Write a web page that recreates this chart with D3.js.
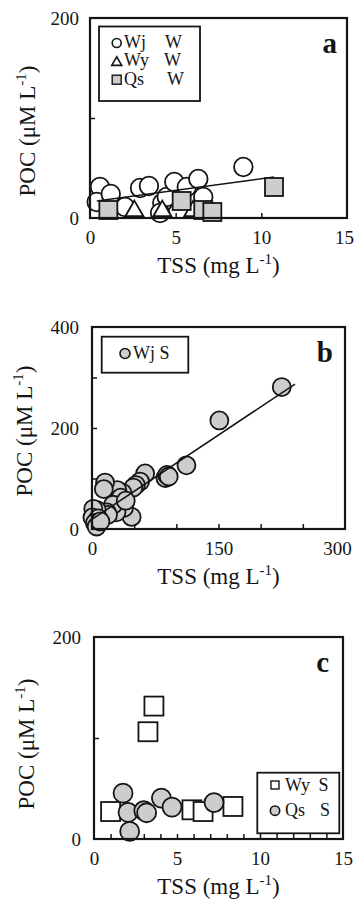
<!DOCTYPE html>
<html>
<head>
<meta charset="utf-8">
<script src="https://cdn.jsdelivr.net/npm/d3@7"></script>
<style>
  html, body { margin: 0; padding: 0; background: #fff; }
  svg { display: block; }
</style>
</head>
<body>
<script>
// ---------------- DATA ----------------
// Panel a (winter)
const wjW_tss = [0.58, 0.39, 1.21, 2.04, 2.92, 3.44, 4.22, 4.48, 4.92, 5.65, 6.32, 6.61, 8.95, 4.09];
const wjW_poc = [31, 16, 24, 11, 30, 32, 15, 21, 36, 31, 39, 21, 51, 5];
const wyW_tss = [2.59, 4.22, 6.03];
const wyW_poc = [7, 7, 7];
const qsW_tss = [1.07, 5.35, 6.61, 7.14, 10.74];
const qsW_poc = [8, 17, 8, 6, 31];
const fitA_tss = [0.4, 10.74];
const fitA_poc = [17, 41];

// Panel b (summer, Wj)
const wjS_tss = [225, 151, 112, 87, 89, 91, 63, 57, 52, 49, 47, 36, 30, 34, 38, 29, 25, 15.5, 14, 17.5, 19, 5.5, 1.5, 0.5, 7.5, 3.5, 5.5, 10, 40];
const wjS_poc = [281, 215, 126, 101, 107, 104, 110, 94, 87, 82, 24, 72, 77, 62, 42, 33, 48, 92, 79, 33, 28, 38, 40, 23, 21, 12, 5, 15, 56];
const fitB_tss = [0, 240.7];
const fitB_poc = [19, 287];

// Panel c (summer, Wy & Qs)
const wyS_tss = [3.61, 3.25, 1.0, 5.9, 6.57, 8.37];
const wyS_poc = [131.6, 106.2, 27.2, 28.9, 27.2, 32.2];
const qsS_tss = [1.75, 2.05, 2.15, 3.0, 3.17, 4.06, 4.7, 7.23];
const qsS_poc = [45.4, 26.3, 7.5, 28, 26, 40.5, 31.6, 36.1];

// Axis ticks / labels
const aXLabels = [0, 5, 10, 15], aXTicks = [5, 10], aYLabels = [0, 200], aYTicks = [100];
const bXLabels = [0, 150, 300], bXTicks = [50, 100, 150, 200, 250], bYLabels = [0, 200, 400], bYTicks = [100, 200, 300];
const cXLabels = [0, 5, 10, 15], cXTicks = [1,2,3,4,5,6,7,8,9,10,11,12,13,14], cYLabels = [0, 200], cYTicks = [100];

const xTitle = "TSS (mg L", yTitle = "POC  (\u03BCM L", supText = "-1";

// ---------------- DRAW ----------------
const W = 357, H = 901;
const FONT = "'Liberation Serif'";
const svg = d3.select("body").append("svg").attr("width", W).attr("height", H);
const GRAY = "#cdcdcd", INK = "#151515";

function zip(a, b) { return a.map((v, i) => [v, b[i]]); }
function styleText(sel, size) {
  return sel.style("font-family", FONT).style("font-size", size + "px").style("fill", INK);
}

function panel(cfg) {
  const x = d3.scaleLinear().domain(cfg.xDomain).range([cfg.left, cfg.right]);
  const y = d3.scaleLinear().domain(cfg.yDomain).range([cfg.bottom, cfg.top]);
  const g = svg.append("g");

  // tick marks (inward)
  const tx = g.append("g").attr("transform", `translate(0,${cfg.bottom})`)
    .call(d3.axisBottom(x).tickValues(cfg.xTicks).tickFormat("").tickSizeInner(-5).tickSizeOuter(0));
  const ty = g.append("g").attr("transform", `translate(${cfg.left},0)`)
    .call(d3.axisLeft(y).tickValues(cfg.yTicks).tickFormat("").tickSizeInner(-5).tickSizeOuter(0));
  [tx, ty].forEach(s => { s.select(".domain").remove(); s.selectAll("line").attr("stroke", INK).attr("stroke-width", 1.5); });

  // tick labels
  const lx = g.append("g").attr("transform", `translate(0,${cfg.bottom})`)
    .call(d3.axisBottom(x).tickValues(cfg.xLabels).tickSize(0).tickPadding(13));
  const ly = g.append("g").attr("transform", `translate(${cfg.left},0)`)
    .call(d3.axisLeft(y).tickValues(cfg.yLabels).tickSize(0).tickPadding(cfg.yPad));
  [lx, ly].forEach(s => {
    s.attr("font-family", null).attr("font-size", null);
    s.select(".domain").remove();
    styleText(s.selectAll("text"), 19);
  });
  if (cfg.lastXShift) lx.selectAll("text").filter((d, i, n) => i === n.length - 1).attr("dx", -cfg.lastXShift);

  // axis titles
  const xt = styleText(g.append("text"), 23).attr("x", (cfg.left + cfg.right) / 2).attr("y", cfg.bottom + 55)
    .attr("text-anchor", "middle");
  xt.append("tspan").text(xTitle);
  xt.append("tspan").attr("dy", -9).style("font-size", "15px").text(supText);
  xt.append("tspan").attr("dy", 9).text(")");

  const yt = styleText(g.append("text"), 23).attr("transform", `translate(${cfg.yTitleX},${cfg.yTitleY}) rotate(-90)`)
    .attr("text-anchor", "middle");
  yt.append("tspan").text(yTitle);
  yt.append("tspan").attr("dy", -9).style("font-size", "15px").text(supText);
  yt.append("tspan").attr("dy", 9).text(")");

  // panel letter
  styleText(g.append("text"), 29).attr("x", cfg.right - cfg.letterDx).attr("y", cfg.top + 35)
    .attr("text-anchor", "end").style("font-weight", "bold").text(cfg.letter);

  return { g, x, y };
}

function circles(p, data, r, fill) {
  p.g.append("g").selectAll("circle").data(data).join("circle")
    .attr("cx", d => p.x(d[0])).attr("cy", d => p.y(d[1])).attr("r", r)
    .attr("fill", fill).attr("stroke", INK).attr("stroke-width", 1.8);
}
function squares(p, data, s, fill) {
  p.g.append("g").selectAll("rect").data(data).join("rect")
    .attr("x", d => p.x(d[0]) - s / 2).attr("y", d => p.y(d[1]) - s / 2)
    .attr("width", s).attr("height", s)
    .attr("fill", fill).attr("stroke", INK).attr("stroke-width", 1.8);
}
function triPath(cx, cy, hw) {
  const h = hw * Math.sqrt(3);
  return `M${cx},${cy - h * 2 / 3}L${cx + hw},${cy + h / 3}L${cx - hw},${cy + h / 3}Z`;
}
function triangles(p, data, hw) {
  p.g.append("g").selectAll("path").data(data).join("path")
    .attr("d", d => triPath(p.x(d[0]), p.y(d[1]), hw))
    .attr("fill", "#fff").attr("stroke", INK).attr("stroke-width", 1.8);
}
function fitLine(p, xs, ys) {
  p.g.append("path").datum(zip(xs, ys))
    .attr("d", d3.line().x(d => p.x(d[0])).y(d => p.y(d[1])))
    .attr("fill", "none").attr("stroke", INK).attr("stroke-width", 1.6);
}
function frame(p, cfg) {
  p.g.append("rect").attr("x", cfg.left).attr("y", cfg.top)
    .attr("width", cfg.right - cfg.left).attr("height", cfg.bottom - cfg.top)
    .attr("fill", "none").attr("stroke", INK).attr("stroke-width", 2.2);
}
function legendBox(p, x0, y0, w, h) {
  p.g.append("rect").attr("x", x0).attr("y", y0).attr("width", w).attr("height", h)
    .attr("fill", "#fff").attr("stroke", INK).attr("stroke-width", 1.8);
}
function legText(p, x, y, t) {
  styleText(p.g.append("text"), 18).attr("x", x).attr("y", y).text(t);
}

// ---- Panel a ----
const cfgA = { left: 90, right: 347, top: 18, bottom: 218, xDomain: [0, 15], yDomain: [0, 200],
  xTicks: aXTicks, yTicks: aYTicks, xLabels: aXLabels, yLabels: aYLabels, yPad: 11, lastXShift: 3,
  yTitleX: 35, yTitleY: 131, letter: "a", letterDx: 10 };
const pA = panel(cfgA);
circles(pA, zip(wjW_tss, wjW_poc), 9.3, "#fff");
fitLine(pA, fitA_tss, fitA_poc);
triangles(pA, zip(wyW_tss, wyW_poc), 9);
squares(pA, zip(qsW_tss, qsW_poc), 18, GRAY);
frame(pA, cfgA);
legendBox(pA, 99, 26.5, 101, 74.5);
pA.g.append("circle").attr("cx", 116.7).attr("cy", 43).attr("r", 4.5).attr("fill", "#fff").attr("stroke", INK).attr("stroke-width", 1.6);
pA.g.append("path").attr("d", triPath(116.7, 62.5, 5)).attr("fill", "#fff").attr("stroke", INK).attr("stroke-width", 1.6);
pA.g.append("rect").attr("x", 112.2).attr("y", 75.2).attr("width", 9).attr("height", 9).attr("fill", GRAY).attr("stroke", INK).attr("stroke-width", 1.4);
legText(pA, 124, 47.5, "Wj"); legText(pA, 165, 47.5, "W");
legText(pA, 124, 66, "Wy");  legText(pA, 164, 66, "W");
legText(pA, 124, 84.5, "Qs"); legText(pA, 167, 84.5, "W");

// ---- Panel b ----
const cfgB = { left: 92, right: 345, top: 327, bottom: 529, xDomain: [0, 300], yDomain: [0, 400],
  xTicks: bXTicks, yTicks: bYTicks, xLabels: bXLabels, yLabels: bYLabels, yPad: 13, lastXShift: 8,
  yTitleX: 32, yTitleY: 431, letter: "b", letterDx: 12 };
const pB = panel(cfgB);
circles(pB, zip(wjS_tss, wjS_poc), 9, GRAY);
fitLine(pB, fitB_tss, fitB_poc);
frame(pB, cfgB);
legendBox(pB, 101.7, 336.7, 86.6, 36);
pB.g.append("circle").attr("cx", 125).attr("cy", 353.5).attr("r", 5).attr("fill", GRAY).attr("stroke", INK).attr("stroke-width", 1.6);
legText(pB, 133, 359, "Wj S");

// ---- Panel c ----
const cfgC = { left: 94, right: 343, top: 637, bottom: 839, xDomain: [0, 15], yDomain: [0, 200],
  xTicks: cXTicks, yTicks: cYTicks, xLabels: cXLabels, yLabels: cYLabels, yPad: 13, lastXShift: 0,
  yTitleX: 34, yTitleY: 744, letter: "c", letterDx: 14 };
const pC = panel(cfgC);
squares(pC, zip(wyS_tss, wyS_poc), 19, "#fff");
circles(pC, zip(qsS_tss, qsS_poc), 9.5, GRAY);
frame(pC, cfgC);
legendBox(pC, 257.3, 772.7, 82, 60.6);
pC.g.append("rect").attr("x", 271).attr("y", 781).attr("width", 8).attr("height", 8).attr("fill", "#fff").attr("stroke", INK).attr("stroke-width", 1.4);
pC.g.append("circle").attr("cx", 275).attr("cy", 810.7).attr("r", 4.7).attr("fill", GRAY).attr("stroke", INK).attr("stroke-width", 1.6);
legText(pC, 285, 790.5, "Wy"); legText(pC, 318.5, 790.5, "S");
legText(pC, 285, 815.5, "Qs"); legText(pC, 320, 815.5, "S");
</script>
</body>
</html>
